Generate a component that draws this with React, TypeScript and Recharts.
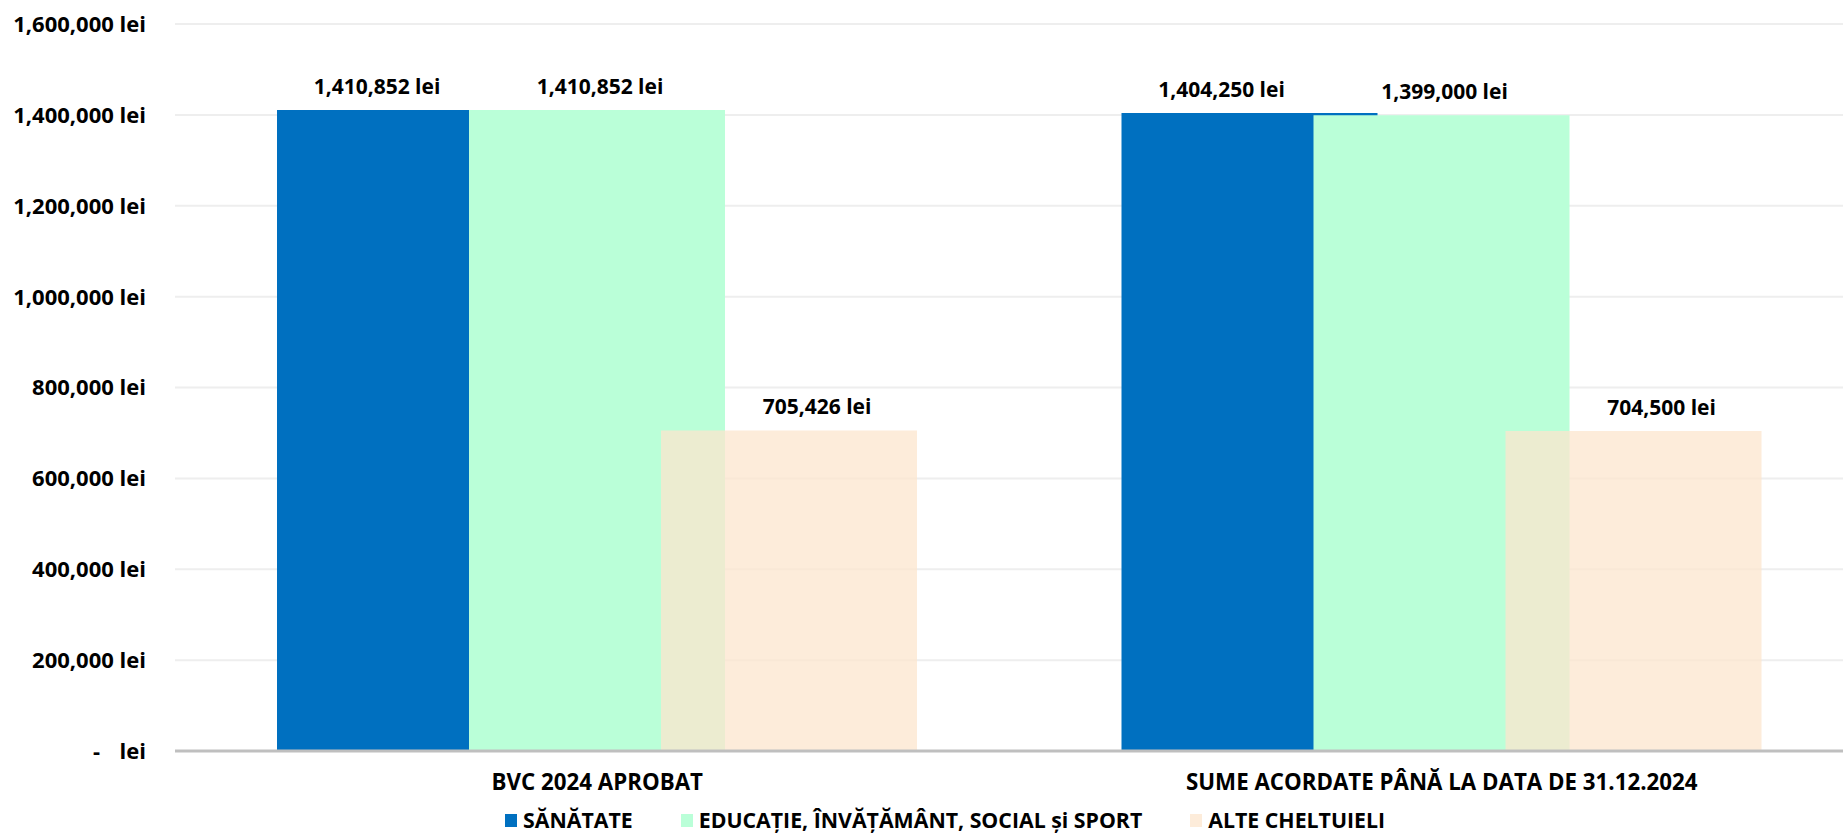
import { BarChart, Bar, XAxis, YAxis, CartesianGrid, Legend, LabelList } from "recharts";

const categories = ["BVC 2024 APROBAT", "SUME ACORDATE PÂNĂ LA DATA DE 31.12.2024"];
const sanatate = [1410852, 1404250];
const educatie = [1410852, 1399000];
const alteCheltuieli = [705426, 704500];
const yTicks = [0, 200000, 400000, 600000, 800000, 1000000, 1200000, 1400000, 1600000];
const seriesNames = ["SĂNĂTATE", "EDUCAȚIE, ÎNVĂȚĂMÂNT, SOCIAL și SPORT", "ALTE CHELTUIELI"];
const seriesColors = ["#0070C0", "#BAFFD8", "#FCE5CE"];

const data = categories.map((c, i) => ({
  cat: c,
  s0: sanatate[i],
  s1: educatie[i],
  s2: alteCheltuieli[i],
}));

const FONT = "'Open Sans', 'Noto Sans', sans-serif";
const fmt = (v: number) => v.toLocaleString("en-US") + " lei";

const YTick = (props: any) => {
  const { x, y, payload } = props;
  const style = { fontFamily: FONT, fontWeight: 700, fontSize: 22, fill: "#000" };
  if (payload.value === 0) {
    return (
      <g>
        <text x={x - 75} y={y} dy="0.36em" textAnchor="end" style={style}>-</text>
        <text x={x - 29} y={y} dy="0.36em" textAnchor="end" style={style}>lei</text>
      </g>
    );
  }
  return (
    <text x={x - 29} y={y} dy="0.36em" textAnchor="end" style={style}>
      {fmt(payload.value)}
    </text>
  );
};

const XTick = (props: any) => {
  const { x, y, payload } = props;
  return (
    <text x={x} y={y} dy={39} textAnchor="middle"
      style={{ fontFamily: FONT, fontWeight: 700, fontSize: 22.3, fill: "#000" }}>
      {payload.value}
    </text>
  );
};

const makeLabel = (dx: number) => (props: any) => {
  const { x, y, width, value } = props;
  return (
    <text x={x + width / 2 + dx} y={y - 16} textAnchor="middle"
      style={{ fontFamily: FONT, fontWeight: 700, fontSize: 21, fill: "#000" }}>
      {fmt(value)}
    </text>
  );
};

const LegendContent = () => (
  <div style={{ display: "flex", alignItems: "center", height: 40, paddingLeft: 505, boxSizing: "border-box" }}>
    {seriesNames.map((n, i) => (
      <div key={n} style={{ display: "flex", alignItems: "center", marginRight: 48 }}>
        <span style={{ width: 12, height: 13, background: seriesColors[i], opacity: i === 2 ? 0.75 : 1, display: "inline-block", marginRight: 6 }} />
        <span style={{ fontFamily: FONT, fontWeight: 700, fontSize: 21.3, color: "#000", lineHeight: "24px" }}>{n}</span>
      </div>
    ))}
  </div>
);

export default function App() {
  return (
    <div style={{ position: "absolute", left: 0, top: 0, width: 1843, height: 840, overflow: "hidden", background: "#fff" }}>
      <BarChart width={1866} height={840} data={data} barSize={256} barGap={-64}
        margin={{ top: 24, right: 2, left: 0, bottom: 0 }}>
        <CartesianGrid vertical={false} stroke="#EEEEEE" strokeWidth={2} />
        <XAxis dataKey="cat" height={49} tickSize={0} tickMargin={0} tick={<XTick />}
          axisLine={{ stroke: "#BFBFBF", strokeWidth: 2.8 }} tickLine={false} interval={0} />
        <YAxis width={175} domain={[0, 1600000]} ticks={yTicks} tickSize={0} tickMargin={0}
          tick={<YTick />} axisLine={false} tickLine={false} />
        <Legend verticalAlign="bottom" content={<LegendContent />}
          wrapperStyle={{ left: 0, width: 1843, height: 40 }} />
        <Bar dataKey="s0" name={seriesNames[0]} fill={seriesColors[0]} isAnimationActive={false}>
          <LabelList dataKey="s0" content={makeLabel(-28)} />
        </Bar>
        <Bar dataKey="s1" name={seriesNames[1]} fill={seriesColors[1]} isAnimationActive={false}>
          <LabelList dataKey="s1" content={makeLabel(3)} />
        </Bar>
        <Bar dataKey="s2" name={seriesNames[2]} fill={seriesColors[2]} fillOpacity={0.75} isAnimationActive={false}>
          <LabelList dataKey="s2" content={makeLabel(28)} />
        </Bar>
      </BarChart>
    </div>
  );
}
